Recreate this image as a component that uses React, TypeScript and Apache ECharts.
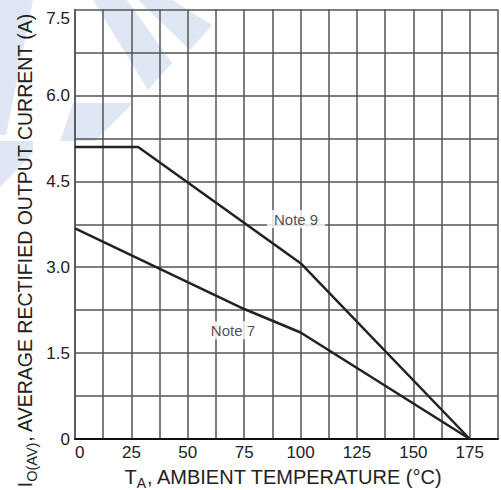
import React, { useEffect, useRef } from "react";
import * as echarts from "echarts";

const note9Temp = [0, 28, 100, 175];
const note9Current = [5.1, 5.1, 3.07, 0];
const note7Temp = [0, 75, 100, 175];
const note7Current = [3.68, 2.27, 1.86, 0];
const noteLabels = ["Note 9", "Note 7"];
const noteLabelTemp = [98, 70];
const noteLabelCurrent = [3.84, 1.9];

const LINE = "#222";
const GRIDC = "#555";
const WM = "#dfe6f4";

export default function App() {
  const ref = useRef<HTMLDivElement>(null);
  useEffect(() => {
    document.body.style.margin = "0";
    const chart = echarts.init(ref.current!, null, { renderer: "svg" });
    const wm = (pts: number[][]) => ({
      type: "polygon",
      shape: { points: pts },
      style: { fill: WM },
      z: -10,
      silent: true,
    });
    const xMain = { fontSize: 20, lineHeight: 20, verticalAlign: "top", fontFamily: "Liberation Sans", fill: "#222" };
    const yMain = { fontSize: 19.5, lineHeight: 20, verticalAlign: "top", fontFamily: "Liberation Sans", fill: "#222" };
    chart.setOption({
      animation: false,
      backgroundColor: "#fff",
      grid: { left: 75, top: 9.5, bottom: 51, right: -5.25, containLabel: false },
      xAxis: {
        type: "value",
        min: 0,
        max: 187.5,
        interval: 12.5,
        axisLine: { show: true, onZero: false, lineStyle: { color: "#111", width: 2 } },
        axisTick: { show: false },
        splitLine: { show: true, lineStyle: { color: GRIDC, width: 1.5 } },
        axisLabel: {
          margin: 5,
          fontFamily: "Liberation Sans",
          fontSize: 17,
          color: "#222",
          alignMinLabel: "left",
          formatter: (v: number) => (v % 25 === 0 && v <= 175 ? String(v) : ""),
        },
      },
      yAxis: {
        type: "value",
        min: 0,
        max: 7.5,
        interval: 0.75,
        axisLine: { show: true, lineStyle: { color: GRIDC, width: 1.5 } },
        axisTick: { show: false },
        splitLine: { show: true, lineStyle: { color: GRIDC, width: 1.5 } },
        axisLabel: {
          margin: 5,
          fontFamily: "Liberation Sans",
          fontSize: 17,
          color: "#222",
          verticalAlignMaxLabel: "top",
          formatter: (v: number) => {
            const k = v / 1.5;
            if (Math.abs(k - Math.round(k)) > 1e-6) return "";
            return Math.abs(v) < 1e-9 ? "0" : v.toFixed(1);
          },
        },
      },
      graphic: [
        wm([[0, 0], [33, 0], [6, 135], [0, 135]]),
        wm([[93, 0], [127, 0], [172, 63], [148, 90]]),
        wm([[138, 0], [172, 0], [212, 25], [190, 50]]),
        wm([[73, 103], [133, 103], [95, 141], [60, 141]]),
        wm([[0, 141], [33, 141], [33, 153], [0, 187]]),
        {
          type: "text",
          x: 283.5,
          y: 477,
          z: 10,
          style: {
            text: "{m|T}{s|A}{m|, AMBIENT TEMPERATURE (°C)}",
            align: "center",
            verticalAlign: "middle",
            fill: "#222",
            fontFamily: "Liberation Sans",
            rich: {
              m: xMain,
              s: { fontSize: 14, lineHeight: 14, padding: [9, 0, 0, 0], verticalAlign: "top", fontFamily: "Liberation Sans", fill: "#222" },
            },
          },
        },
        {
          type: "text",
          x: 25,
          y: 250,
          rotation: Math.PI / 2,
          z: 10,
          style: {
            text: "{m|I}{s|O(AV)}{m|, AVERAGE RECTIFIED OUTPUT CURRENT (A)}",
            align: "center",
            verticalAlign: "middle",
            fill: "#222",
            fontFamily: "Liberation Sans",
            rich: {
              m: yMain,
              s: { fontSize: 14.5, lineHeight: 15, padding: [9, 0, 0, 0], verticalAlign: "top", fontFamily: "Liberation Sans", fill: "#222" },
            },
          },
        },
      ],
      series: [
        {
          type: "line",
          name: "Note 9",
          data: note9Temp.map((t, i) => [t, note9Current[i]]),
          symbol: "none",
          lineStyle: { color: LINE, width: 2.5 },
          z: 3,
        },
        {
          type: "line",
          name: "Note 7",
          data: note7Temp.map((t, i) => [t, note7Current[i]]),
          symbol: "none",
          lineStyle: { color: LINE, width: 2.5 },
          z: 3,
        },
        {
          type: "scatter",
          name: "labels",
          data: noteLabels.map((n, i) => ({ name: n, value: [noteLabelTemp[i], noteLabelCurrent[i]] })),
          symbolSize: 0,
          z: 4,
          label: {
            show: true,
            position: "inside",
            formatter: (p: any) => p.name,
            fontFamily: "Liberation Sans",
            fontSize: 15,
            color: "#222",
            backgroundColor: "#fff",
            padding: [2, 7, 1, 7],
          },
        },
      ],
    });
    return () => chart.dispose();
  }, []);
  return <div ref={ref} style={{ width: 501, height: 490 }} />;
}
